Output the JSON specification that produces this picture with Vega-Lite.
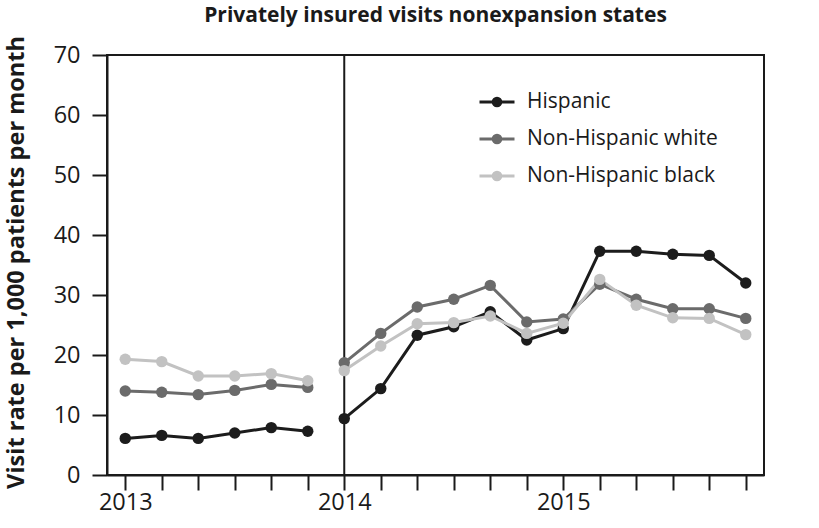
{
  "$schema": "https://vega.github.io/schema/vega-lite/v6.json",
  "width": 657,
  "height": 420,
  "autosize": "none",
  "padding": {"left": 107, "top": 55, "right": 55, "bottom": 53},
  "background": "white",
  "title": {
    "text": "Privately insured visits nonexpansion states",
    "font": "Open Sans",
    "fontSize": 21,
    "fontWeight": "bold",
    "color": "#1a1a1a",
    "anchor": "middle",
    "frame": "group",
    "offset": 10
  },
  "config": {
    "view": {"stroke": "#1a1a1a", "strokeWidth": 2},
    "axis": {
      "domainColor": "#1a1a1a",
      "domainWidth": 2,
      "tickColor": "#1a1a1a",
      "tickWidth": 2,
      "tickSize": 15,
      "grid": false,
      "labelFont": "Open Sans",
      "labelFontSize": 23.5,
      "labelColor": "#1a1a1a"
    },
    "legend": {
      "labelFont": "Open Sans",
      "labelFontSize": 21,
      "labelColor": "#1a1a1a",
      "labelLimit": 0
    }
  },
  "data": {
    "values": [
      {"i": 0, "group": "Hispanic", "period": "a", "v": 6.1},
      {"i": 1, "group": "Hispanic", "period": "a", "v": 6.6},
      {"i": 2, "group": "Hispanic", "period": "a", "v": 6.1},
      {"i": 3, "group": "Hispanic", "period": "a", "v": 7.0},
      {"i": 4, "group": "Hispanic", "period": "a", "v": 7.9},
      {"i": 5, "group": "Hispanic", "period": "a", "v": 7.3},
      {"i": 6, "group": "Hispanic", "period": "b", "v": 9.4},
      {"i": 7, "group": "Hispanic", "period": "b", "v": 14.4},
      {"i": 8, "group": "Hispanic", "period": "b", "v": 23.3},
      {"i": 9, "group": "Hispanic", "period": "b", "v": 24.7},
      {"i": 10, "group": "Hispanic", "period": "b", "v": 27.2},
      {"i": 11, "group": "Hispanic", "period": "b", "v": 22.5},
      {"i": 12, "group": "Hispanic", "period": "b", "v": 24.4},
      {"i": 13, "group": "Hispanic", "period": "b", "v": 37.3},
      {"i": 14, "group": "Hispanic", "period": "b", "v": 37.3},
      {"i": 15, "group": "Hispanic", "period": "b", "v": 36.8},
      {"i": 16, "group": "Hispanic", "period": "b", "v": 36.6},
      {"i": 17, "group": "Hispanic", "period": "b", "v": 32.0},
      {"i": 0, "group": "Non-Hispanic white", "period": "a", "v": 14.0},
      {"i": 1, "group": "Non-Hispanic white", "period": "a", "v": 13.8},
      {"i": 2, "group": "Non-Hispanic white", "period": "a", "v": 13.4},
      {"i": 3, "group": "Non-Hispanic white", "period": "a", "v": 14.1},
      {"i": 4, "group": "Non-Hispanic white", "period": "a", "v": 15.1},
      {"i": 5, "group": "Non-Hispanic white", "period": "a", "v": 14.6},
      {"i": 6, "group": "Non-Hispanic white", "period": "b", "v": 18.7},
      {"i": 7, "group": "Non-Hispanic white", "period": "b", "v": 23.6},
      {"i": 8, "group": "Non-Hispanic white", "period": "b", "v": 28.0},
      {"i": 9, "group": "Non-Hispanic white", "period": "b", "v": 29.3},
      {"i": 10, "group": "Non-Hispanic white", "period": "b", "v": 31.6},
      {"i": 11, "group": "Non-Hispanic white", "period": "b", "v": 25.5},
      {"i": 12, "group": "Non-Hispanic white", "period": "b", "v": 26.0},
      {"i": 13, "group": "Non-Hispanic white", "period": "b", "v": 31.8},
      {"i": 14, "group": "Non-Hispanic white", "period": "b", "v": 29.3},
      {"i": 15, "group": "Non-Hispanic white", "period": "b", "v": 27.7},
      {"i": 16, "group": "Non-Hispanic white", "period": "b", "v": 27.7},
      {"i": 17, "group": "Non-Hispanic white", "period": "b", "v": 26.1},
      {"i": 0, "group": "Non-Hispanic black", "period": "a", "v": 19.3},
      {"i": 1, "group": "Non-Hispanic black", "period": "a", "v": 18.9},
      {"i": 2, "group": "Non-Hispanic black", "period": "a", "v": 16.5},
      {"i": 3, "group": "Non-Hispanic black", "period": "a", "v": 16.5},
      {"i": 4, "group": "Non-Hispanic black", "period": "a", "v": 16.9},
      {"i": 5, "group": "Non-Hispanic black", "period": "a", "v": 15.7},
      {"i": 6, "group": "Non-Hispanic black", "period": "b", "v": 17.4},
      {"i": 7, "group": "Non-Hispanic black", "period": "b", "v": 21.5},
      {"i": 8, "group": "Non-Hispanic black", "period": "b", "v": 25.2},
      {"i": 9, "group": "Non-Hispanic black", "period": "b", "v": 25.4},
      {"i": 10, "group": "Non-Hispanic black", "period": "b", "v": 26.5},
      {"i": 11, "group": "Non-Hispanic black", "period": "b", "v": 23.6},
      {"i": 12, "group": "Non-Hispanic black", "period": "b", "v": 25.3},
      {"i": 13, "group": "Non-Hispanic black", "period": "b", "v": 32.6},
      {"i": 14, "group": "Non-Hispanic black", "period": "b", "v": 28.3},
      {"i": 15, "group": "Non-Hispanic black", "period": "b", "v": 26.2},
      {"i": 16, "group": "Non-Hispanic black", "period": "b", "v": 26.1},
      {"i": 17, "group": "Non-Hispanic black", "period": "b", "v": 23.4}
    ]
  },
  "encoding": {
    "x": {
      "field": "i",
      "type": "quantitative",
      "scale": {"domain": [-0.5, 17.5], "nice": false, "zero": false},
      "axis": {
        "title": null,
        "values": [0, 1, 2, 3, 4, 5, 6, 7, 8, 9, 10, 11, 12, 13, 14, 15, 16, 17],
        "labelExpr": "datum.value == 0 ? '2013' : datum.value == 6 ? '2014' : datum.value == 12 ? '2015' : ''",
        "labelPadding": 0,
        "labelFlush": false,
        "labelOverlap": false
      }
    },
    "y": {
      "field": "v",
      "type": "quantitative",
      "scale": {"domain": [0, 70], "nice": false},
      "axis": {
        "title": "Visit rate per 1,000 patients per month",
        "values": [0, 10, 20, 30, 40, 50, 60, 70],
        "labelPadding": 12,
        "titleFont": "Open Sans",
        "titleFontSize": 23.5,
        "titleFontWeight": "bold",
        "titleColor": "#1a1a1a",
        "titleAngle": -90,
        "titleAlign": "center",
        "titleBaseline": "middle",
        "titleX": -91,
        "titleY": 207
      }
    }
  },
  "layer": [
    {
      "data": {"values": [{"i": 6}]},
      "mark": {"type": "rule", "color": "#1a1a1a", "strokeWidth": 2},
      "encoding": {"y": null}
    },
    {
      "mark": {"type": "line", "strokeWidth": 3},
      "encoding": {
        "color": {
          "field": "group",
          "type": "nominal",
          "sort": ["Hispanic", "Non-Hispanic white", "Non-Hispanic black"],
          "scale": {"domain": ["Hispanic", "Non-Hispanic white", "Non-Hispanic black"], "range": ["#1c1c1c", "#6b6b6b", "#c2c2c2"]},
          "legend": {
            "title": null,
            "orient": "none",
            "legendX": 371,
            "legendY": 28,
            "symbolType": "M-1,0L1,0M-0.22,0A0.22,0.22 0 1,0 0.22,0A0.22,0.22 0 1,0 -0.22,0Z",
            "symbolSize": 1225,
            "symbolStrokeWidth": 3,
            "labelOffset": 11,
            "rowPadding": 8,
            "encode": {
              "symbols": {
                "update": {
                  "fill": {"scale": "color", "field": "value"},
                  "stroke": {"scale": "color", "field": "value"},
                  "opacity": {"value": 1}
                }
              }
            }
          }
        },
        "detail": {"field": "period", "type": "nominal"}
      }
    },
    {
      "mark": {"type": "point", "filled": true, "size": 130, "opacity": 1},
      "encoding": {
        "color": {"field": "group", "type": "nominal", "sort": ["Hispanic", "Non-Hispanic white", "Non-Hispanic black"], "legend": null}
      }
    }
  ]
}
